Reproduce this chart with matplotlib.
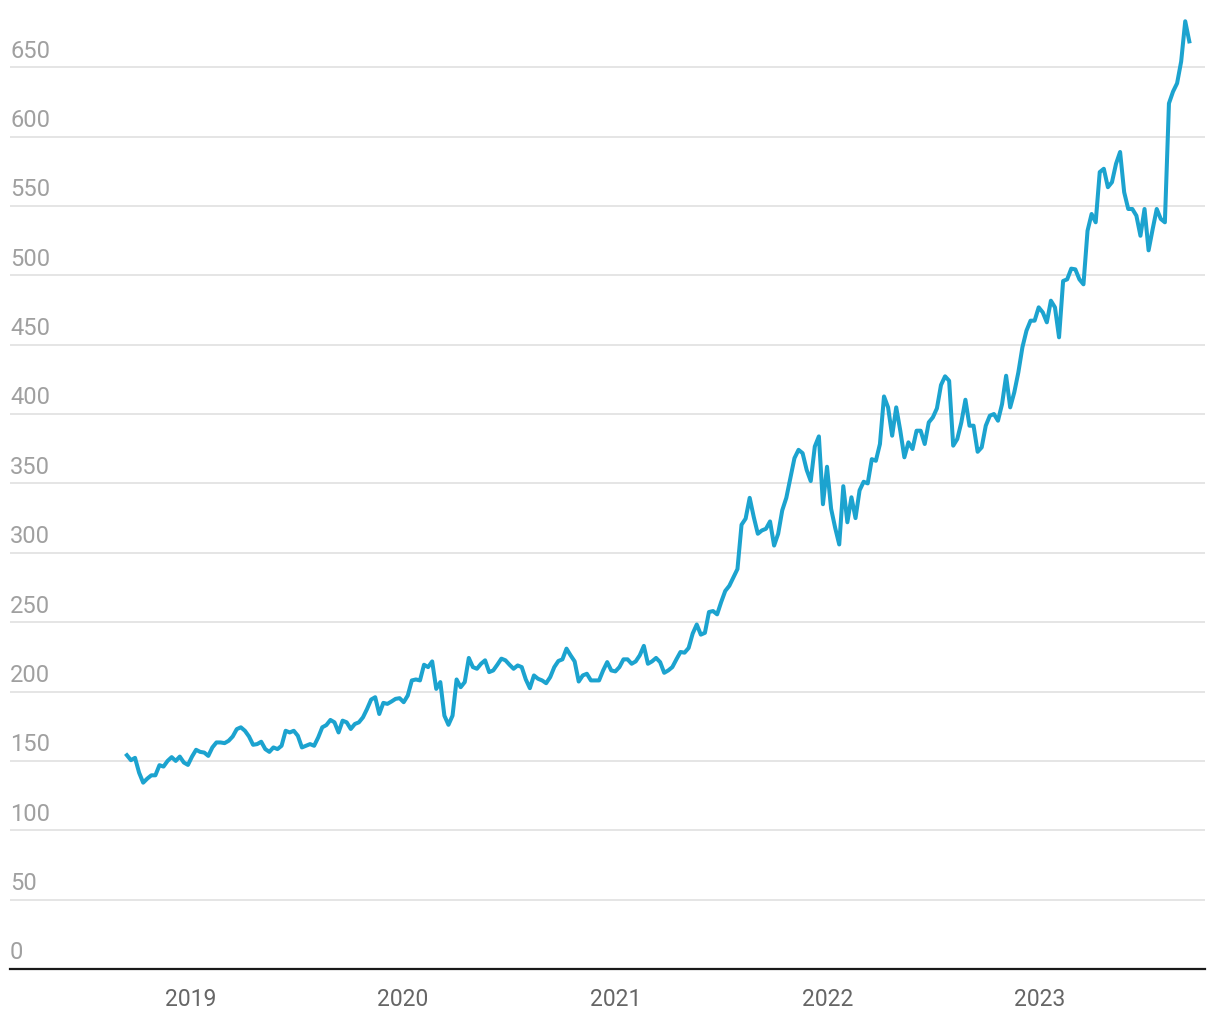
import matplotlib
matplotlib.use('Agg')
import matplotlib.pyplot as plt
import pandas as pd

plt.rcParams['font.family'] = ['Roboto', 'DejaVu Sans']

# weekly closing prices, one list per calendar year
price_2018 = [154.1, 150.5, 152.2, 141.5, 134.3, 137.2, 139.6, 139.6, 146.9, 145.9,
              150, 152.7, 150, 153.1, 148.8, 147.1]
price_2019 = [153.1, 158, 156.5, 156, 153.6, 159.7, 163.3, 163.3, 162.8, 164.5,
              167.6, 172.9, 174.2, 171.7, 167.6, 161.6, 162.1, 163.8, 158.5, 156.5,
              159.7, 158.5, 160.9, 171.7, 170.5, 171.7, 168.1, 159.7, 160.9, 162.1,
              160.9, 166.9, 174.2, 175.8, 179.5, 177.8, 170.5, 179, 177.8, 173,
              176.6, 177.8, 181.4, 187.4, 194.2, 195.9, 183.8, 191.8, 191.1, 192.8,
              194.7, 195.2]
price_2020 = [192.3, 197.1, 208, 208.7, 208, 219.3, 217.6, 221.7, 201.9, 206.8,
              182.6, 176, 182.6, 208.7, 203.1, 206.8, 224.2, 217.6, 216.4, 220,
              222.5, 214, 215.2, 219.3, 223.7, 222.5, 219.3, 216.4, 218.8, 217.6,
              208.7, 202.4, 211.6, 209.2, 208, 206, 210.4, 217.6, 222, 223.2,
              230.9, 226.1, 221.7, 207.2, 211.6, 212.8, 208, 208, 208, 215.2,
              221.2, 215.2]
price_2021 = [214.5, 217.6, 223.2, 223.2, 220, 221.7, 226.1, 232.9, 220, 221.7,
              224.2, 221.2, 213.5, 215.2, 217.6, 223.2, 228.5, 228, 231.4, 241.8,
              248.3, 241, 242.3, 257.3, 258, 255.6, 264.5, 272.5, 276.2, 282.2,
              288.3, 320.2, 324.6, 339.6, 325.8, 313.7, 316.1, 317.3, 322.6, 305.2,
              313.7, 330.6, 339.6, 354.1, 368.2, 374.2, 371.8, 359.7, 351.7, 376.6,
              383.9, 335, 362]
price_2022 = [331.8, 318, 306, 348, 322, 340, 325, 345, 351.2, 350,
              367.5, 366.3, 378.4, 412.7, 404.8, 384.4, 404.8, 388, 368.8, 379.6,
              374.8, 388, 388, 378.4, 394, 397.6, 404.1, 420.9, 427.2, 424,
              377.2, 382, 394, 410.3, 391.6, 391.6, 372.8, 376, 391.6, 398.8,
              400, 395.2, 407.2, 427.6, 404.8, 415.6, 430, 448.1, 460.1, 467.3,
              467.3, 476.9]
price_2023 = [473.3, 466.1, 481.7, 476.9, 455.3, 495.9, 497.1, 504.8, 504.3, 497.1,
              493.5, 532.1, 544.2, 538.2, 574.4, 576.8, 563.5, 567.1, 580.4, 588.9,
              559.9, 547.8, 547.8, 543, 528.5, 547.8, 518, 533.3, 547.8, 540.6,
              538.2, 623.9, 632.4, 638.4, 654.1, 683.1, 668.6]

y_ticks = [0, 50, 100, 150, 200, 250, 300, 350, 400, 450, 500, 550, 600, 650]
years = [2019, 2020, 2021, 2022, 2023]

prices = price_2018 + price_2019 + price_2020 + price_2021 + price_2022 + price_2023
dates = pd.date_range('2018-09-14', periods=len(prices), freq='7D')

fig = plt.figure(figsize=(12.2, 10.2), dpi=100)
ax = fig.add_axes([10 / 1220, 50 / 1020, 1195 / 1220, 957.3 / 1020])

for v in y_ticks:
    if v > 0:
        ax.axhline(v, color='#e3e3e3', lw=1.3, zorder=0)
    ax.annotate(str(v), xy=(0, v), xycoords=('axes fraction', 'data'),
                xytext=(0, 4), textcoords='offset points',
                ha='left', va='bottom', color='#a0a0a0', fontsize=17)

ax.plot(dates, prices, color='#1ca3cf', lw=2.9, solid_joinstyle='round', zorder=3)
ax.axhline(0, color='#1a1a1a', lw=1.6, clip_on=False, zorder=4)

ax.set_ylim(0, 690)
ax.set_xlim(pd.Timestamp('2018-02-25'), pd.Timestamp('2023-10-12'))
ax.set_yticks([])
ax.set_xticks([pd.Timestamp(f'{y}-01-01') for y in years])
ax.set_xticklabels([str(y) for y in years])
ax.tick_params(axis='x', length=0, pad=13, labelsize=16.5, labelcolor='#666666')
for s in ax.spines.values():
    s.set_visible(False)

fig.savefig('out.png', dpi=100)
